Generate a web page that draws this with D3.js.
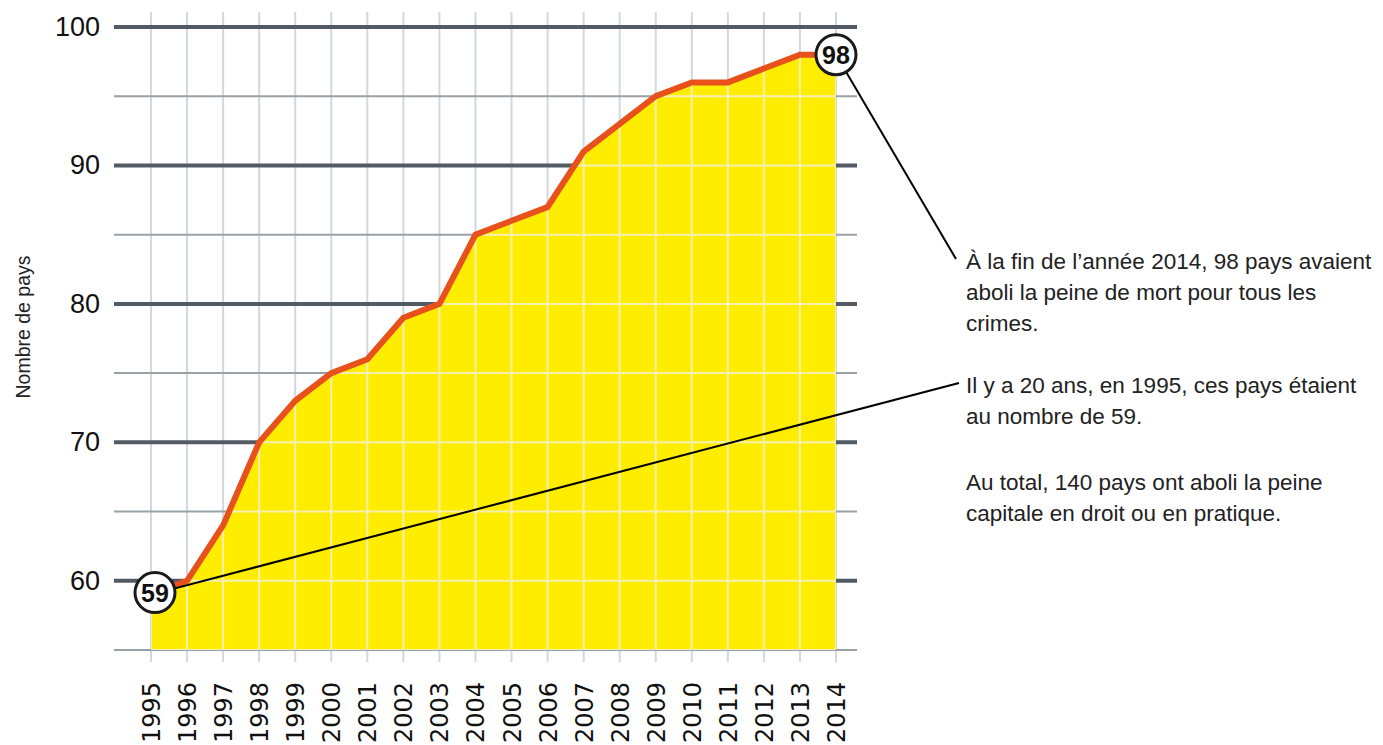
<!DOCTYPE html>
<html>
<head>
<meta charset="utf-8">
<script src="https://cdn.jsdelivr.net/npm/d3@7"></script>
<style>
  body { margin: 0; background: #fff; }
  svg { display: block; }
</style>
</head>
<body>
<div id="chart"></div>
<script>
// data
const years = [1995, 1996, 1997, 1998, 1999, 2000, 2001, 2002, 2003, 2004,
               2005, 2006, 2007, 2008, 2009, 2010, 2011, 2012, 2013, 2014];
const countries = [59, 60, 64, 70, 73, 75, 76, 79, 80, 85,
                   86, 87, 91, 93, 95, 96, 96, 97, 98, 98];
const majorTicks = [60, 70, 80, 90, 100];
const minorTicks = [55, 65, 75, 85, 95];
const notes = [
  ["À la fin de l’année 2014, 98 pays avaient", "aboli la peine de mort pour tous les", "crimes."],
  ["Il y a 20 ans, en 1995, ces pays étaient", "au nombre de 59."],
  ["Au total, 140 pays ont aboli la peine", "capitale en droit ou en pratique."]
];

const W = 1383, H = 745;
const svg = d3.select("#chart").append("svg")
    .attr("width", W)
    .attr("height", H);

const x = d3.scaleLinear().domain([1995, 2014]).range([151, 836]);
const y = d3.scaleLinear().domain([55, 100]).range([650, 27]);
const gridLeft = 114, gridRight = 857;

const data = years.map((yr, i) => ({year: yr, value: countries[i]}));

//------GRID-----------------------------------------------------
const grid = svg.append("g").attr("id", "grid");

grid.selectAll("line.vgrid")
    .data(years)
    .enter()
    .append("line")
    .attr("class", "vgrid")
    .attr("x1", d => x(d)).attr("x2", d => x(d))
    .attr("y1", 12).attr("y2", 662)
    .attr("stroke", "#d3d8dd")
    .attr("stroke-width", 2);

grid.selectAll("line.minor")
    .data(minorTicks)
    .enter()
    .append("line")
    .attr("class", "minor")
    .attr("x1", gridLeft).attr("x2", gridRight)
    .attr("y1", d => y(d)).attr("y2", d => y(d))
    .attr("stroke", "#98a1a8")
    .attr("stroke-width", 2);

grid.selectAll("line.major")
    .data(majorTicks)
    .enter()
    .append("line")
    .attr("class", "major")
    .attr("x1", gridLeft).attr("x2", gridRight)
    .attr("y1", d => y(d)).attr("y2", d => y(d))
    .attr("stroke", "#525b63")
    .attr("stroke-width", 4);

//------AREA-----------------------------------------------------
const area = d3.area()
    .x(d => x(d.year))
    .y0(y(55))
    .y1(d => y(d.value));

svg.append("path")
    .datum(data)
    .attr("d", area)
    .attr("fill", "#ffed00");

// grid lines seen through the yellow
svg.append("clipPath")
    .attr("id", "area-clip")
    .append("path")
    .datum(data)
    .attr("d", area);

const inner = svg.append("g").attr("clip-path", "url(#area-clip)");
inner.selectAll("line.vin")
    .data(years)
    .enter()
    .append("line")
    .attr("x1", d => x(d)).attr("x2", d => x(d))
    .attr("y1", 12).attr("y2", 662)
    .attr("stroke", "#f5efb5")
    .attr("stroke-width", 2);
inner.selectAll("line.hin")
    .data(majorTicks.concat(minorTicks))
    .enter()
    .append("line")
    .attr("x1", gridLeft).attr("x2", gridRight)
    .attr("y1", d => y(d)).attr("y2", d => y(d))
    .attr("stroke", "#f5efb5")
    .attr("stroke-width", 2);

// the line
svg.append("path")
    .datum(data)
    .attr("d", d3.line().x(d => x(d.year)).y(d => y(d.value)))
    .attr("fill", "none")
    .attr("stroke", "#e8501c")
    .attr("stroke-width", 6)
    .attr("stroke-linejoin", "miter");

//------AXES LABELS-----------------------------------------------
svg.selectAll("text.ylab")
    .data(majorTicks)
    .enter()
    .append("text")
    .attr("class", "ylab")
    .attr("x", 100)
    .attr("y", d => y(d) + 9)
    .attr("text-anchor", "end")
    .attr("font-family", "Liberation Sans, Arial, sans-serif")
    .attr("font-size", 27)
    .attr("fill", "#111")
    .text(d => d);

svg.selectAll("text.xlab")
    .data(years)
    .enter()
    .append("text")
    .attr("class", "xlab")
    .attr("transform", d => `translate(${x(d) + 9},682) rotate(-90)`)
    .attr("text-anchor", "end")
    .attr("font-family", "DejaVu Sans, sans-serif")
    .attr("font-size", 24)
    .attr("fill", "#111")
    .text(d => d);

svg.append("text")
    .attr("transform", "translate(30,327) rotate(-90)")
    .attr("text-anchor", "middle")
    .attr("font-family", "Liberation Sans, Arial, sans-serif")
    .attr("font-size", 19.5)
    .attr("fill", "#222")
    .text("Nombre de pays");

//------ANNOTATIONS-----------------------------------------------
const first = data[0], last = data[data.length - 1];

svg.append("line")
    .attr("x1", x(last.year)).attr("y1", y(last.value))
    .attr("x2", 956).attr("y2", 259)
    .attr("stroke", "#000").attr("stroke-width", 2);

svg.append("line")
    .attr("x1", x(first.year)).attr("y1", y(first.value))
    .attr("x2", 959).attr("y2", 383)
    .attr("stroke", "#000").attr("stroke-width", 2);

const badges = svg.selectAll("g.badge")
    .data([first, last])
    .enter()
    .append("g")
    .attr("class", "badge")
    .attr("transform", (d, i) => `translate(${x(d.year) + (i === 0 ? 4 : 0)},${y(d.value) - (i === 0 ? 2 : 0)})`);

badges.append("circle")
    .attr("r", 20)
    .attr("fill", "#fff")
    .attr("stroke", "#1a1a1a")
    .attr("stroke-width", 3);

badges.append("text")
    .attr("text-anchor", "middle")
    .attr("y", 9)
    .attr("font-family", "Liberation Sans, Arial, sans-serif")
    .attr("font-weight", "bold")
    .attr("font-size", 25)
    .attr("fill", "#111")
    .text(d => d.value);

// text blocks on the right
const blockTop = [269, 393, 490];
notes.forEach((lines, b) => {
    const t = svg.append("text")
        .attr("x", 966)
        .attr("y", blockTop[b])
        .attr("font-family", "Liberation Sans, Arial, sans-serif")
        .attr("font-size", 22.5)
        .attr("fill", "#222");
    lines.forEach((l, i) => {
        t.append("tspan")
            .attr("x", 966)
            .attr("dy", i === 0 ? 0 : 31)
            .text(l);
    });
});
</script>
</body>
</html>
